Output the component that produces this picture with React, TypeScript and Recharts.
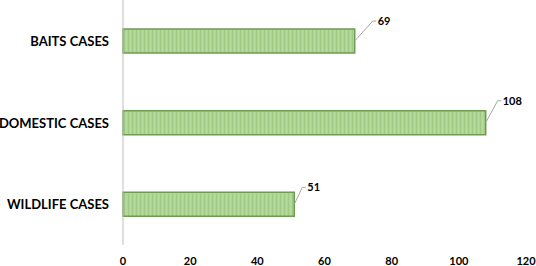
import React from 'react'
import { BarChart, Bar, XAxis, YAxis, LabelList } from 'recharts'

// data
const categories = ['BAITS CASES', 'DOMESTIC CASES', 'WILDLIFE CASES']
const cases = [69, 108, 51]
const xTicks = [0, 20, 40, 60, 80, 100, 120]

// leader-line elbow offsets (dx, dy) from the bar end, per bar
const labelNudge = [
  [18, -20],
  [12, -22],
  [8, -17],
]

const FONT = 'Lato, "Open Sans", sans-serif'

const chartData = categories.map((name, i) => ({ name, value: cases[i] }))

const CategoryTick = ({ x, y, payload }: any) => (
  <text
    x={x - 6}
    y={y}
    dy={5}
    textAnchor="end"
    fontFamily={FONT}
    fontWeight={700}
    fontSize={13}
    fill="#000"
  >
    {payload.value}
  </text>
)

const ValueTick = ({ x, y, payload }: any) => (
  <text
    x={x}
    y={y}
    dy={12}
    textAnchor="middle"
    fontFamily={FONT}
    fontWeight={700}
    fontSize={11}
    fill="#000"
  >
    {payload.value}
  </text>
)

const LeaderLabel = (props: any) => {
  const { x, y, width, height, value, index } = props
  const [dx, dy] = labelNudge[index] || [14, -20]
  const x0 = x + width
  const y0 = y + height / 2
  const x1 = x0 + dx
  const y1 = y0 + dy
  return (
    <g>
      <polyline
        points={`${x0},${y0} ${x1},${y1} ${x1 + 3.5},${y1}`}
        fill="none"
        stroke="#a6a6a6"
        strokeWidth={1}
      />
      <text
        x={x1 + 5}
        y={y1}
        dy={4}
        fontFamily={FONT}
        fontWeight={700}
        fontSize={11}
        fill="#000"
      >
        {value}
      </text>
    </g>
  )
}

export default function App() {
  return (
    <div style={{ position: 'absolute', left: 0, top: 0, background: '#fff' }}>
      <BarChart
        width={536}
        height={266}
        data={chartData}
        layout="vertical"
        margin={{ top: 0, right: 10, bottom: 0, left: 0 }}
        barCategoryGap={0}
      >
        <defs>
          <pattern id="barStripes" width="4" height="4" patternUnits="userSpaceOnUse">
            <rect width="4" height="4" fill="#aed596" />
            <rect width="1" height="4" fill="#9fca84" />
            <rect x="2" width="1" height="4" fill="#b7da9f" />
          </pattern>
        </defs>
        <XAxis
          type="number"
          domain={[0, 120]}
          ticks={xTicks}
          axisLine={false}
          tickLine={false}
          height={21}
          tick={<ValueTick />}
          interval={0}
        />
        <YAxis
          type="category"
          dataKey="name"
          width={123}
          axisLine={{ stroke: '#bfbfbf', strokeWidth: 1 }}
          tickLine={false}
          tick={<CategoryTick />}
        />
        <Bar
          dataKey="value"
          barSize={24}
          fill="url(#barStripes)"
          stroke="#6f9b52"
          strokeWidth={1.5}
          isAnimationActive={false}
        >
          <LabelList dataKey="value" content={<LeaderLabel />} />
        </Bar>
      </BarChart>
    </div>
  )
}
